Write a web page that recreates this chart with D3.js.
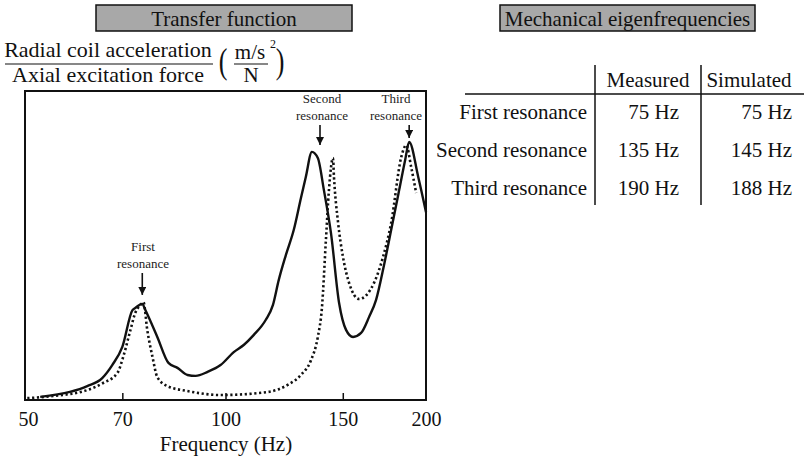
<!DOCTYPE html>
<html>
<head>
<meta charset="utf-8">
<script src="https://cdn.jsdelivr.net/npm/d3@7"></script>
<style>
  body { margin: 0; background: #fff; }
  svg { display: block; font-family: "Liberation Serif", "DejaVu Serif", serif; }
</style>
</head>
<body>
<svg id="chart" width="804" height="458"></svg>
<script>
// measured transfer function (solid)
const measuredFreq = [52.7, 58.4, 62.0, 65.3, 67.6, 70.0, 72.5, 73.2, 75.0, 75.8, 79.0, 82.1, 84.7, 87.7, 90.2, 94.0, 98.3, 102.9, 106.5, 110.2, 114.9, 117.8, 120.2, 123.2, 126.6, 129.8, 132.0, 134.8, 137.6, 140.5, 144.0, 148.1, 151.7, 155.4, 159.8, 164.3, 168.3, 173.0, 177.3, 182.3, 186.1, 188.7, 194.7, 200];
const measuredAmp = [1.0, 2.6, 4.5, 7.1, 11.3, 17.2, 29.1, 29.8, 31.1, 29.1, 20.4, 12.0, 10.4, 8.1, 7.8, 9.1, 11.3, 15.5, 17.8, 21.0, 25.9, 30.7, 38.8, 46.9, 55.0, 65.4, 72.2, 80.3, 78.3, 68.0, 54.0, 31.4, 22.7, 20.4, 21.7, 26.9, 32.4, 43.7, 55.0, 68.0, 77.7, 83.5, 72.2, 60.8];

// simulated transfer function (dotted)
const simulatedFreq = [50.4, 55.1, 62.0, 65.5, 68.8, 70.2, 72.0, 73.2, 74.5, 75.3, 76.3, 77.7, 79.0, 81.8, 87.7, 98.3, 115.7, 124.0, 129.8, 134.4, 137.6, 139.6, 141.5, 143.0, 145.0, 145.5, 147.6, 150.1, 153.3, 158.7, 167.1, 172.4, 177.3, 183.6, 186.8, 190.0, 193.3];
const simulatedAmp = [0.6, 1.3, 3.2, 5.5, 8.7, 13.9, 22.7, 28.2, 30.7, 31.7, 22.7, 13.9, 7.4, 4.5, 2.9, 1.6, 2.6, 4.9, 8.1, 12.9, 20.4, 30.1, 51.8, 68.0, 78.3, 72.2, 57.3, 46.3, 37.9, 32.7, 37.9, 46.3, 57.3, 78.6, 82.5, 75.4, 67.0];

const xTicks = [50, 70, 100, 150, 200];

// resonance annotations: label lines, arrow frequency, arrow tip amplitude
const resonanceLabels = [["First", "resonance"], ["Second", "resonance"], ["Third", "resonance"]];
const resonanceFreq = [75, 134, 188.7];
const resonanceTip = [34.0, 82.5, 84.8];

// eigenfrequency table
const tableColumns = ["Measured", "Simulated"];
const tableRows = ["First resonance", "Second resonance", "Third resonance"];
const measuredHz = [75, 135, 190];
const simulatedHz = [75, 145, 188];

const svg = d3.select("#chart");

const x = d3.scaleLog().domain([50, 200]).range([25, 426]);
const y = d3.scaleLinear().domain([0, 100]).range([400, 91]);

svg.append("defs").append("marker")
  .attr("id", "arrow")
  .attr("viewBox", "0 0 10 10")
  .attr("refX", 10).attr("refY", 5)
  .attr("markerWidth", 5).attr("markerHeight", 5)
  .attr("markerUnits", "strokeWidth")
  .attr("orient", "auto")
  .append("path").attr("d", "M0,0L10,5L0,10z").attr("fill", "#111");

// title boxes
const boxes = [
  { text: "Transfer function", x0: 96, x1: 352 },
  { text: "Mechanical eigenfrequencies", x0: 500, x1: 755 }
];
boxes.forEach(b => {
  svg.append("rect")
    .attr("x", b.x0).attr("y", 5).attr("width", b.x1 - b.x0).attr("height", 26)
    .attr("fill", "#a8a8a8").attr("stroke", "#111").attr("stroke-width", 1.5);
  svg.append("text")
    .attr("x", (b.x0 + b.x1) / 2).attr("y", 25.5)
    .attr("text-anchor", "middle").attr("font-size", 21).attr("fill", "#111")
    .text(b.text);
});

// y label as a fraction
const yl = svg.append("g").attr("fill", "#111");
yl.append("text").attr("x", 108).attr("y", 57).attr("text-anchor", "middle").attr("font-size", 22).text("Radial coil acceleration");
yl.append("line").attr("x1", 5).attr("x2", 213).attr("y1", 64).attr("y2", 64).attr("stroke", "#111").attr("stroke-width", 1.2);
yl.append("text").attr("x", 108).attr("y", 82).attr("text-anchor", "middle").attr("font-size", 22).text("Axial excitation force");
yl.append("text").attr("text-anchor", "middle").attr("font-size", 26)
  .attr("transform", "translate(223,73) scale(1,1.4)").text("(");
yl.append("text").attr("text-anchor", "middle").attr("font-size", 26)
  .attr("transform", "translate(280,73) scale(1,1.4)").text(")");
yl.append("text").attr("x", 250).attr("y", 59).attr("text-anchor", "middle").attr("font-size", 21).text("m/s");
yl.append("text").attr("x", 273).attr("y", 48).attr("text-anchor", "middle").attr("font-size", 12).text("2");
yl.append("line").attr("x1", 234).attr("x2", 268).attr("y1", 64).attr("y2", 64).attr("stroke", "#111").attr("stroke-width", 1.2);
yl.append("text").attr("x", 251).attr("y", 82).attr("text-anchor", "middle").attr("font-size", 21).text("N");

// plot frame
svg.append("rect")
  .attr("x", x(50)).attr("y", y(100))
  .attr("width", x(200) - x(50)).attr("height", y(0) - y(100))
  .attr("fill", "none").attr("stroke", "#111").attr("stroke-width", 2);

// x axis ticks and labels
const xAxis = svg.append("g").attr("transform", `translate(0,${y(0)})`)
  .call(d3.axisBottom(x).tickValues(xTicks).tickFormat(d3.format("d")).tickSizeInner(-7).tickSizeOuter(0).tickPadding(12));
xAxis.select(".domain").remove();
xAxis.selectAll("line").attr("stroke", "#111").attr("stroke-width", 1.5);
xAxis.selectAll(".tick").filter(d => d === 50 || d === 200).select("line").remove();
xAxis.selectAll("text").attr("font-size", 20).attr("font-family", "Liberation Serif").attr("fill", "#111");
xAxis.selectAll(".tick").filter(d => d === 50).select("text").attr("dx", 3);

svg.append("text")
  .attr("x", 226).attr("y", 451).attr("text-anchor", "middle")
  .attr("font-size", 21).attr("fill", "#111").text("Frequency (Hz)");

// curves
const path = d3.line().x(d => x(d[0])).y(d => y(d[1])).curve(d3.curveMonotoneX);

svg.append("path")
  .datum(d3.zip(simulatedFreq, simulatedAmp))
  .attr("d", path)
  .attr("fill", "none").attr("stroke", "#111").attr("stroke-width", 2.6)
  .attr("stroke-dasharray", "2.2,2.6");

svg.append("path")
  .datum(d3.zip(measuredFreq, measuredAmp))
  .attr("d", path)
  .attr("fill", "none").attr("stroke", "#111").attr("stroke-width", 2.4)
  .attr("stroke-linejoin", "round");

// annotations
const annX = [143, 322, 396];
const annTop = [247, 99, 99];
resonanceLabels.forEach((lines, i) => {
  const t = svg.append("text").attr("text-anchor", "middle").attr("font-size", 13).attr("fill", "#222");
  lines.forEach((s, j) => {
    t.append("tspan").attr("x", annX[i]).attr("y", annTop[i] + 4 + j * 16.5).text(s);
  });
  const ax = i === 1 ? 320 : x(resonanceFreq[i]);
  svg.append("line")
    .attr("x1", ax).attr("x2", ax)
    .attr("y1", annTop[i] + 26).attr("y2", y(resonanceTip[i]))
    .attr("stroke", "#111").attr("stroke-width", 1.6)
    .attr("marker-end", "url(#arrow)");
});

// table
const tb = svg.append("g").attr("fill", "#111").attr("font-size", 21);
const colRight = [679, 792];
const rowY = [119, 157, 195];
tb.append("line").attr("x1", 465).attr("x2", 804).attr("y1", 94).attr("y2", 94).attr("stroke", "#111").attr("stroke-width", 1.5);
[595, 701].forEach(vx => {
  tb.append("line").attr("x1", vx).attr("x2", vx).attr("y1", 65).attr("y2", 205).attr("stroke", "#111").attr("stroke-width", 1.5);
});
tb.append("text").attr("x", 648).attr("y", 87).attr("text-anchor", "middle").text(tableColumns[0]);
tb.append("text").attr("x", 749).attr("y", 87).attr("text-anchor", "middle").text(tableColumns[1]);
tableRows.forEach((r, i) => {
  tb.append("text").attr("x", 587).attr("y", rowY[i]).attr("text-anchor", "end").text(r);
  tb.append("text").attr("x", colRight[0]).attr("y", rowY[i]).attr("text-anchor", "end").text(measuredHz[i] + " Hz");
  tb.append("text").attr("x", colRight[1]).attr("y", rowY[i]).attr("text-anchor", "end").text(simulatedHz[i] + " Hz");
});
</script>
</body>
</html>
